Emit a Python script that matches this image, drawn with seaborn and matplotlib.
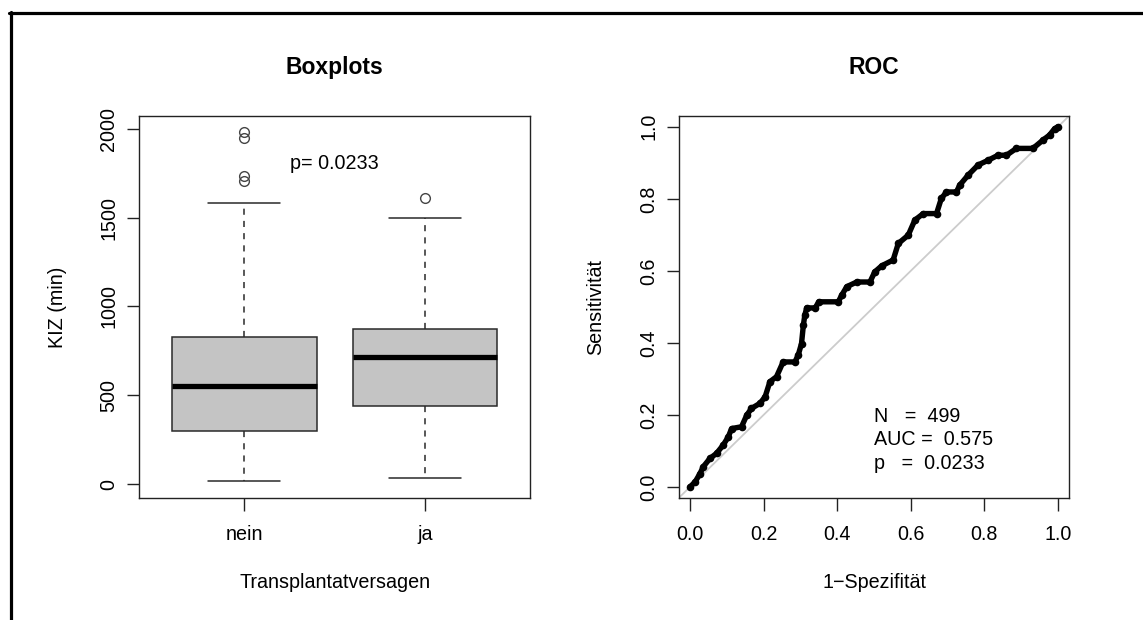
import matplotlib
matplotlib.use("Agg")
import matplotlib.pyplot as plt
from matplotlib.lines import Line2D
import pandas as pd
import seaborn as sns

# --- Boxplot summary of KIZ (min) by graft failure ---
groups = ["nein", "ja"]
kiz_whisker_lo = [19, 34]
kiz_q1 = [298, 439]
kiz_median = [552, 713]
kiz_q3 = [826, 871]
kiz_whisker_hi = [1584, 1496]
kiz_outliers = [[1708, 1734, 1946, 1984], [1612]]
p_label = "p= 0.0233"

# --- ROC curve vertices (1-specificity, sensitivity) ---
roc_fpr = [0.000, 0.014, 0.027, 0.036, 0.054, 0.072, 0.090, 0.104, 0.113, 0.140,
           0.154, 0.167, 0.190, 0.204, 0.217, 0.235, 0.253, 0.285, 0.294, 0.303,
           0.308, 0.312, 0.317, 0.340, 0.350, 0.403, 0.412, 0.426, 0.453, 0.489,
           0.502, 0.521, 0.552, 0.566, 0.593, 0.611, 0.634, 0.670, 0.683, 0.697,
           0.724, 0.733, 0.756, 0.783, 0.810, 0.837, 0.860, 0.887, 0.932, 0.959,
           0.977, 0.991, 1.000]
roc_tpr = [0.000, 0.014, 0.037, 0.056, 0.079, 0.093, 0.116, 0.139, 0.162, 0.167,
           0.199, 0.218, 0.232, 0.250, 0.292, 0.306, 0.347, 0.347, 0.366, 0.398,
           0.449, 0.477, 0.497, 0.497, 0.514, 0.514, 0.532, 0.556, 0.569, 0.569,
           0.597, 0.614, 0.630, 0.676, 0.699, 0.741, 0.759, 0.759, 0.801, 0.819,
           0.819, 0.838, 0.866, 0.894, 0.907, 0.921, 0.921, 0.940, 0.940, 0.963,
           0.977, 0.995, 1.000]
roc_info = ["N   =  499", "AUC =  0.575", "p   =  0.0233"]

# Expand the five-number summaries into samples whose quartiles,
# whisker ends and outliers reproduce those summaries exactly.
rows = []
for i, g in enumerate(groups):
    vals = ([kiz_whisker_lo[i]] + [kiz_q1[i]] * 5 + [kiz_median[i]] * 5
            + [kiz_q3[i]] * 5 + [kiz_whisker_hi[i]] + kiz_outliers[i])
    rows += [(g, v) for v in vals]
kiz = pd.DataFrame(rows, columns=["Transplantatversagen", "KIZ"])
roc = pd.DataFrame({"fpr": roc_fpr, "tpr": roc_tpr})

FS = 14.2

sns.set_theme(style="white")
plt.rcParams["font.family"] = ["Liberation Sans", "DejaVu Sans"]
plt.rcParams.update({
    "text.color": "black",
    "axes.labelcolor": "black",
    "axes.edgecolor": "#222222",
    "axes.linewidth": 1.0,
    "xtick.color": "#222222",
    "ytick.color": "#222222",
    "xtick.labelcolor": "black",
    "ytick.labelcolor": "black",
    "xtick.major.size": 9,
    "ytick.major.size": 9,
    "xtick.major.width": 1.0,
    "ytick.major.width": 1.0,
    "xtick.major.pad": 11,
    "ytick.major.pad": 6,
    "xtick.bottom": True,
    "ytick.left": True,
    "xtick.labelsize": FS,
    "ytick.labelsize": FS,
})

W, H = 1143, 620
fig = plt.figure(figsize=(W / 100, H / 100), dpi=100)
ax1 = fig.add_axes([139.3 / W, 122.3 / H, 390.7 / W, 381.7 / H])
ax2 = fig.add_axes([679.0 / W, 122.3 / H, 390.0 / W, 381.7 / H])

# ---- Left: boxplots ----
line_col = "#2a2a2a"
sns.boxplot(
    data=kiz, x="Transplantatversagen", y="KIZ", order=groups, ax=ax1,
    color="#c4c4c4", saturation=1, width=0.8, linecolor=line_col, linewidth=1.1,
    fliersize=7,
    whiskerprops={"linestyle": (0, (4, 4)), "color": line_col, "linewidth": 1.1},
    capprops={"color": line_col, "linewidth": 1.1},
    medianprops={"color": "black", "linewidth": 3.8, "solid_capstyle": "butt"},
    flierprops={"marker": "o", "markerfacecolor": "none",
                "markeredgecolor": "#444444", "markeredgewidth": 1.0},
)
ax1.set_xlim(-0.58, 1.58)
ax1.set_ylim(-77, 2072)
ax1.set_yticks([0, 500, 1000, 1500, 2000])
ax1.set_yticklabels(["0", "500", "1000", "1500", "2000"], rotation=90, va="center")
ax1.text(0.5, 1805, p_label, ha="center", va="center", fontsize=FS)
ax1.set_xlabel("Transplantatversagen", fontsize=FS)
ax1.set_ylabel("KIZ (min)", fontsize=FS)

# ---- Right: ROC ----
ax2.axline((0, 0), (1, 1), color="#cccccc", linewidth=1.3, zorder=1)
sns.lineplot(data=roc, x="fpr", y="tpr", sort=False, estimator=None, ax=ax2,
             color="black", linewidth=3.9, marker="o", markersize=5.5,
             markeredgewidth=0, zorder=3)
ax2.set_xlim(-0.03, 1.03)
ax2.set_ylim(-0.03, 1.03)
ticks = [0.0, 0.2, 0.4, 0.6, 0.8, 1.0]
ax2.set_xticks(ticks)
ax2.set_xticklabels([f"{t:.1f}" for t in ticks])
ax2.set_yticks(ticks)
ax2.set_yticklabels([f"{t:.1f}" for t in ticks], rotation=90, va="center")
for line, yy in zip(roc_info, [0.196, 0.132, 0.066]):
    ax2.text(0.5, yy, line, ha="left", va="center", fontsize=FS)
ax2.set_xlabel("1\u2212Spezifit\u00e4t", fontsize=FS)
ax2.set_ylabel("Sensitivit\u00e4t", fontsize=FS)

for ax, title in [(ax1, "Boxplots"), (ax2, "ROC")]:
    for s in ax.spines.values():
        s.set_visible(True)
        s.set_color("#222222")
        s.set_linewidth(1.0)
    ax.xaxis.set_label_coords(0.5, -0.221)
    ax.xaxis.label.set_va("center")
    ax.yaxis.label.set_va("center")
    ax.text(0.5, 1.126, title, transform=ax.transAxes, ha="center",
            va="center", fontsize=16.5, fontweight="bold", color="black")
ax1.yaxis.set_label_coords(-0.2106, 0.5)
ax2.yaxis.set_label_coords(-0.215, 0.5)

# outer frame (top and left edges)
fig.add_artist(Line2D([9 / W, 1.0], [1 - 13 / H, 1 - 13 / H],
                      transform=fig.transFigure, color="black", linewidth=2.3))
fig.add_artist(Line2D([10.8 / W, 10.8 / W], [0.0, 1 - 11.5 / H],
                      transform=fig.transFigure, color="black", linewidth=2.3))

fig.savefig("out.png", dpi=100, facecolor="white")
